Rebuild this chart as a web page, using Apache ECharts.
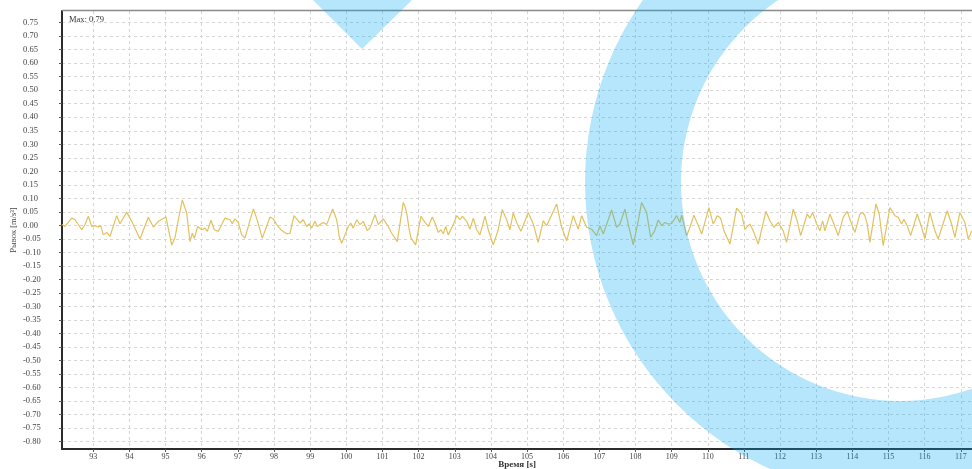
<!DOCTYPE html>
<html>
<head>
<meta charset="utf-8">
<script src="https://cdn.jsdelivr.net/npm/echarts@6/dist/echarts.min.js"></script>
<style>
  html, body { margin: 0; padding: 0; background: #ffffff; }
  #chart { width: 972px; height: 469px; }
</style>
</head>
<body>
<div id="chart"></div>
<script>
// Jerk signal, time in seconds and jerk in m/s³
const timeSec = [
  92.134, 92.217, 92.308, 92.402, 92.494, 92.557, 92.679, 92.770, 92.862, 92.956,
  93.047, 93.138, 93.205, 93.277, 93.371, 93.462, 93.647, 93.739, 93.924, 94.062,
  94.292, 94.521, 94.660, 94.798, 95.011, 95.169, 95.260, 95.351, 95.462, 95.584,
  95.675, 95.739, 95.794, 95.888, 95.999, 96.090, 96.154, 96.256, 96.347, 96.458,
  96.643, 96.782, 96.845, 96.920, 97.011, 97.105, 97.196, 97.426, 97.520, 97.675,
  97.888, 97.979, 98.073, 98.212, 98.350, 98.441, 98.552, 98.627, 98.718, 98.809,
  98.903, 98.975, 99.041, 99.133, 99.196, 99.271, 99.362, 99.456, 99.622, 99.733,
  99.805, 99.871, 99.963, 100.054, 100.120, 100.192, 100.286, 100.378, 100.469, 100.580,
  100.654, 100.793, 100.884, 101.022, 101.160, 101.255, 101.409, 101.576, 101.622, 101.678,
  101.733, 101.789, 101.918, 102.065, 102.176, 102.267, 102.378, 102.452, 102.544, 102.618,
  102.682, 102.748, 102.820, 102.959, 103.053, 103.144, 103.208, 103.329, 103.421, 103.512,
  103.606, 103.697, 103.836, 103.927, 104.065, 104.203, 104.314, 104.436, 104.527, 104.618,
  104.712, 104.831, 105.033, 105.172, 105.310, 105.448, 105.542, 105.819, 105.957, 106.096,
  106.278, 106.416, 106.510, 106.649, 106.787, 106.925, 107.017, 107.108, 107.340, 107.479,
  107.570, 107.708, 107.819, 107.938, 108.076, 108.170, 108.308, 108.419, 108.530, 108.629,
  108.723, 108.815, 108.906, 109.000, 109.138, 109.230, 109.277, 109.415, 109.506, 109.617,
  109.830, 110.032, 110.151, 110.262, 110.355, 110.447, 110.613, 110.798, 110.937, 111.028,
  111.166, 111.257, 111.396, 111.609, 111.720, 111.830, 111.949, 112.087, 112.181, 112.364,
  112.474, 112.569, 112.751, 112.826, 112.900, 113.011, 113.102, 113.177, 113.241, 113.379,
  113.490, 113.609, 113.747, 113.858, 113.979, 114.071, 114.209, 114.284, 114.347, 114.411,
  114.486, 114.652, 114.743, 114.853, 115.039, 115.177, 115.269, 115.363, 115.426, 115.517,
  115.612, 115.794, 115.916, 116.007, 116.145, 116.284, 116.375, 116.624, 116.746, 116.837,
  116.975, 117.114, 117.205, 117.307
];

const jerk = [
  0.003, -0.004, 0.011, 0.027, 0.021, 0.009, -0.016, 0.003, 0.034, -0.004,
  -0.001, -0.006, -0.001, -0.035, -0.026, -0.041, 0.036, 0.006, 0.049, 0.015,
  -0.050, 0.030, -0.006, 0.015, 0.031, -0.073, -0.045, 0.020, 0.094, 0.046,
  -0.060, -0.029, -0.048, -0.004, -0.016, -0.010, -0.022, 0.019, -0.016, -0.022,
  0.027, 0.021, 0.006, 0.024, 0.011, -0.035, -0.047, 0.061, 0.027, -0.047,
  0.031, 0.024, 0.003, -0.019, -0.031, -0.029, 0.036, 0.024, 0.009, 0.021,
  -0.004, 0.006, -0.010, 0.015, -0.004, 0.003, 0.011, 0.003, 0.061, 0.021,
  -0.041, -0.066, -0.035, -0.004, 0.009, -0.010, 0.021, 0.003, 0.015, -0.019,
  -0.010, 0.040, 0.003, 0.024, -0.004, -0.029, -0.060, 0.085, 0.071, 0.040,
  -0.010, -0.047, -0.072, 0.034, 0.011, -0.004, 0.031, 0.009, -0.026, -0.016,
  -0.031, -0.004, -0.035, 0.003, 0.036, 0.021, 0.034, 0.015, -0.014, 0.027,
  -0.016, -0.035, 0.034, -0.016, -0.072, -0.016, 0.059, 0.021, -0.016, 0.046,
  0.011, -0.022, 0.048, 0.005, -0.063, 0.017, -0.001, 0.079, -0.007, -0.057,
  0.036, -0.014, 0.036, -0.007, -0.014, -0.038, -0.001, -0.032, 0.057, -0.007,
  0.005, 0.060, -0.007, -0.072, 0.017, 0.085, 0.048, -0.044, -0.020, 0.020,
  -0.001, 0.011, 0.005, 0.007, 0.036, 0.011, 0.038, -0.038, -0.007, 0.038,
  -0.032, 0.066, 0.005, 0.036, 0.027, -0.020, -0.069, 0.064, 0.042, -0.014,
  0.005, -0.020, -0.069, 0.052, 0.017, -0.007, 0.011, -0.020, -0.063, 0.060,
  0.017, -0.038, 0.042, 0.027, 0.048, 0.005, -0.020, 0.017, -0.020, 0.042,
  0.005, -0.038, 0.030, 0.052, 0.005, -0.026, 0.042, 0.048, 0.036, 0.005,
  -0.063, 0.079, 0.042, -0.075, 0.066, 0.036, 0.030, 0.005, 0.023, -0.001,
  -0.038, 0.042, -0.007, -0.050, 0.048, -0.020, -0.050, 0.054, 0.005, -0.044,
  0.048, 0.011, -0.050, -0.020
];

// Axis ticks
const timeTicks = [93, 94, 95, 96, 97, 98, 99, 100, 101, 102, 103, 104, 105,
  106, 107, 108, 109, 110, 111, 112, 113, 114, 115, 116, 117];
const jerkTicks = [-0.80, -0.75, -0.70, -0.65, -0.60, -0.55, -0.50, -0.45, -0.40,
  -0.35, -0.30, -0.25, -0.20, -0.15, -0.10, -0.05, 0.00, 0.05, 0.10, 0.15, 0.20,
  0.25, 0.30, 0.35, 0.40, 0.45, 0.50, 0.55, 0.60, 0.65, 0.70, 0.75];

const maxLabel = 'Max: 0.79';

const points = timeSec.map((t, i) => [t, jerk[i]]);

const chart = echarts.init(document.getElementById('chart'), null, { renderer: 'canvas' });

const serif = '"Liberation Serif", "DejaVu Serif", serif';
const gridStyle = { color: '#d6d6d6', width: 1, type: [3, 3] };
const brandBlue = 'rgba(0, 170, 240, 0.29)';

chart.setOption({
  animation: false,
  backgroundColor: '#ffffff',
  grid: { left: 62, top: 11, right: 0, bottom: 20, containLabel: false, outerBoundsMode: 'none' },
  xAxis: {
    type: 'value',
    min: 92.134,
    max: 117.31,
    name: 'Время [s]',
    nameLocation: 'middle',
    nameGap: 11,
    nameMoveOverlap: false,
    nameTextStyle: { fontFamily: serif, fontSize: 9, color: '#333', fontWeight: 'bold' },
    axisLine: { show: true, onZero: false, lineStyle: { color: '#2b2b2b', width: 2 } },
    axisTick: { show: true, length: 3, customValues: timeTicks, lineStyle: { color: '#555' } },
    axisLabel: {
      customValues: timeTicks,
      fontFamily: serif, fontSize: 8, color: '#444', margin: 4,
      formatter: v => String(Math.round(v))
    },
    splitLine: { show: true, lineStyle: gridStyle }
  },
  yAxis: {
    type: 'value',
    min: -0.827,
    max: 0.793,
    name: 'Рывок [m/s³]',
    nameLocation: 'middle',
    nameRotate: 90,
    nameGap: 44,
    nameMoveOverlap: false,
    nameTextStyle: { fontFamily: serif, fontSize: 8.5, color: '#444' },
    axisLine: { show: true, onZero: false, lineStyle: { color: '#2b2b2b', width: 2 } },
    axisTick: { show: true, length: 3, customValues: jerkTicks, lineStyle: { color: '#555' } },
    axisLabel: {
      customValues: jerkTicks,
      fontFamily: serif, fontSize: 8.5, color: '#444',
      align: 'left', margin: 39,
      formatter: v => (Math.abs(v) < 1e-9 ? 0 : v).toFixed(2)
    },
    splitLine: { show: true, lineStyle: gridStyle }
  },
  series: [{
    type: 'line',
    data: points,
    showSymbol: false,
    symbol: 'none',
    lineStyle: { color: '#e2c15c', width: 1.2 },
    z: 3
  }],
  graphic: {
    elements: [
      // top border of the plot frame
      {
        type: 'line', silent: true, z: 50,
        shape: { x1: 62, y1: 10.5, x2: 972, y2: 10.5 },
        style: { stroke: '#8a8a8a', lineWidth: 1.5 }
      },
      {
        type: 'text', silent: true, z: 50,
        left: 69, top: 15,
        style: { text: maxLabel, font: '8.5px ' + serif, fill: '#333' }
      },
      // brand mark: ring and wedge
      {
        type: 'ring', silent: true, z: 100,
        shape: { cx: 900, cy: 182, r: 315, r0: 219 },
        style: { fill: brandBlue }
      },
      {
        type: 'polygon', silent: true, z: 100,
        shape: { points: [[313, 0], [412, 0], [362, 49]] },
        style: { fill: brandBlue }
      }
    ]
  }
});
</script>
</body>
</html>
